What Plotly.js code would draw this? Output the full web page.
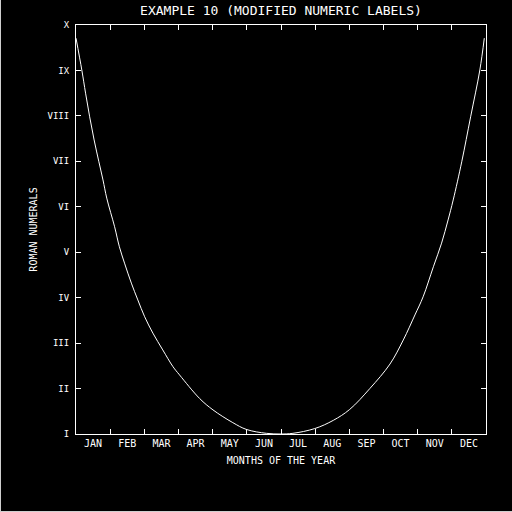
<!DOCTYPE html>
<html>
<head>
<meta charset="utf-8">
<script src="https://cdn.plot.ly/plotly-3.0.1.min.js"></script>
<style>
html,body{margin:0;padding:0;background:#000;}
#chart{position:absolute;left:0;top:0;width:512px;height:512px;}
.edgeL{position:absolute;left:0;top:0;width:1px;height:512px;background:#cfcfcf;}
.edgeB{position:absolute;left:0;top:511px;width:512px;height:1px;background:#cfcfcf;}
</style>
</head>
<body>
<div id="chart"></div>
<div class="edgeL"></div>
<div class="edgeB"></div>
<script>
// Data
const months = ["JAN","FEB","MAR","APR","MAY","JUN","JUL","AUG","SEP","OCT","NOV","DEC"];
const monthCenters = [0.5,1.5,2.5,3.5,4.5,5.5,6.5,7.5,8.5,9.5,10.5,11.5];
const monthBounds = [1,2,3,4,5,6,7,8,9,10,11];
const romanVals = [1,2,3,4,5,6,7,8,9,10];
const romanText = ["I","II","III","IV","V","VI","VII","VIII","IX","X"];
const curveX = [0.0,0.17,0.28,0.40,0.53,0.67,0.79,0.90,1.13,1.27,1.42,1.62,1.81,2.01,2.25,2.54,2.84,3.03,3.62,4.01,4.59,4.99,5.57,6.0,6.35,6.99,7.53,8.01,8.60,9.19,9.58,9.92,10.16,10.46,10.70,10.89,11.04,11.29,11.55,11.82,11.95];
const curveY = [9.71,9.01,8.50,7.98,7.47,6.99,6.59,6.19,5.56,5.12,4.76,4.32,3.95,3.58,3.22,2.85,2.48,2.30,1.78,1.53,1.25,1.10,1.015,1.0,1.015,1.12,1.30,1.54,2.0,2.54,3.07,3.62,4.02,4.68,5.20,5.71,6.15,6.99,7.98,9.01,9.71];

const font = "DejaVu Sans Mono";
const W = "#ffffff";

const traces = [
  {x: curveX, y: curveY, mode: "lines", line: {color: W, width: 1, shape: "spline", smoothing: 1},
   hoverinfo: "skip", showlegend: false},
  {x: [0], y: [1], xaxis: "x2", mode: "markers", marker: {opacity: 0}, hoverinfo: "skip", showlegend: false}
];

const layout = {
  width: 512, height: 512,
  paper_bgcolor: "#000", plot_bgcolor: "#000",
  margin: {l: 76, r: 26, t: 25, b: 78},
  showlegend: false,
  title: {text: "EXAMPLE 10 (MODIFIED NUMERIC LABELS)", font: {family: font, size: 13, color: W},
          x: 0.5, xref: "paper", y: 0.98, yref: "container", yanchor: "middle"},
  xaxis: {range: [0,12], tickmode: "array", tickvals: monthCenters, ticktext: months, ticks: "",
          showline: true, mirror: true, linecolor: W, linewidth: 1, showgrid: false, zeroline: false,
          tickfont: {family: font, size: 10, color: W},
          title: {text: "MONTHS OF THE YEAR", font: {family: font, size: 10, color: W}, standoff: 8}},
  xaxis2: {range: [0,12], overlaying: "x", side: "bottom", tickmode: "array", tickvals: monthBounds,
           ticktext: monthBounds.map(() => ""), ticks: "inside", ticklen: 5, tickcolor: W, tickwidth: 1,
           showline: true, mirror: "ticks", linecolor: W, linewidth: 1, showgrid: false, zeroline: false},
  yaxis: {range: [1,10], tickmode: "array", tickvals: romanVals, ticktext: romanText, ticks: "inside",
          ticklen: 5, tickcolor: W, tickwidth: 1, showline: true, mirror: "ticks", linecolor: W, linewidth: 1,
          showgrid: false, zeroline: false, ticklabelstandoff: 4,
          tickfont: {family: font, size: 9, color: W},
          title: {text: "ROMAN NUMERALS", font: {family: font, size: 10, color: W}, standoff: 8}}
};

Plotly.newPlot("chart", traces, layout, {staticPlot: true, displayModeBar: false});
</script>
</body>
</html>
